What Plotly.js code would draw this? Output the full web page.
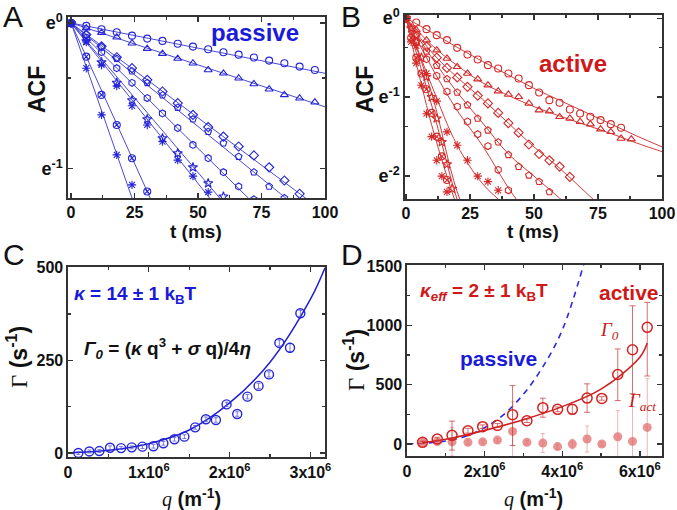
<!DOCTYPE html>
<html><head><meta charset="utf-8">
<script src="https://cdn.plot.ly/plotly-3.0.1.min.js"></script>
<style>html,body{margin:0;padding:0;background:#fff}#chart{width:677px;height:510px}</style>
</head><body><div id="chart"></div>
<script>
// ---------- Panel A (passive): ln(ACF) vs t (ms) ----------
const A_t = [0,6,12,18,24,30,36,42,48,54,60,66,72,78,84,90,96];
const A_circle   = [0,-0.02,-0.043,-0.064,-0.087,-0.107,-0.123,-0.142,-0.162,-0.18,-0.201,-0.217,-0.237,-0.258,-0.276,-0.299,-0.322];
const A_triangle = [0,-0.035,-0.066,-0.098,-0.139,-0.176,-0.21,-0.244,-0.276,-0.322,-0.345,-0.379,-0.418,-0.454,-0.493,-0.516,-0.543];
const A_diamond  = [0,-0.08,-0.16,-0.235,-0.31,-0.39,-0.47,-0.55,-0.63,-0.714,-0.779,-0.847,-0.908,-0.99,-1.08,-1.171];
const A_pentagon = [0,-0.08,-0.165,-0.245,-0.33,-0.41,-0.495,-0.58,-0.66,-0.745,-0.824,-0.916,-1.023,-1.121,-1.2];
const A_hexagon  = [0,-0.1,-0.2,-0.31,-0.41,-0.515,-0.62,-0.72,-0.836,-0.927,-1.023,-1.121,-1.21];
const A_star     = [0,-0.125,-0.27,-0.41,-0.53,-0.66,-0.79,-0.893,-0.99,-1.099,-1.19];
const A_aster    = [0,-0.13,-0.288,-0.432,-0.568,-0.699,-0.813,-0.94,-1.05,-1.16];
const A_crossed  = [0,-0.231,-0.493,-0.699,-0.927,-1.155];
const A_asterF   = [0,-0.31,-0.63,-0.904,-1.11];
const A_fitT = [0,100];
const A_fitEnd = [-0.345,-0.575,-1.30,-1.42,-1.72,-2.05,-2.2,-3.85,-5.0];

// ---------- Panel B (active): ln(ACF) vs t (ms) ----------
const B_t = [0,4,8,12,16,20,24,28,32,36,40,44,48,52,56,60,64,68,72,76,80,84,88];
const B_circle   = [0,-0.055,-0.139,-0.215,-0.278,-0.376,-0.46,-0.523,-0.595,-0.637,-0.70,-0.764,-0.848,-0.941,-1.038,-1.072,-1.156,-1.207,-1.249,-1.291,-1.342,-1.388];
const B_triangle = [0,-0.15,-0.278,-0.405,-0.51,-0.616,-0.70,-0.772,-0.848,-0.924,-0.966,-0.996,-1.08,-1.165,-1.177,-1.249,-1.27,-1.312,-1.342,-1.405,-1.439,-1.523,-1.532];
const B_diamond  = [0,-0.2,-0.36,-0.5,-0.63,-0.75,-0.87,-0.98,-1.08,-1.2,-1.33,-1.45,-1.6,-1.72,-1.8,-1.88,-2.01];
const B_pentagon = [0,-0.22,-0.42,-0.6,-0.77,-0.94,-1.1,-1.27,-1.42,-1.57,-1.73,-1.88,-1.99,-2.07,-2.2];
const B_hexagon  = [0,-0.3,-0.52,-0.73,-0.93,-1.12,-1.31,-1.47,-1.62,-1.92,-2.18];
const B_aster    = [0,-0.35,-0.7,-1.05,-1.44,-1.61,-1.8,-2.0,-2.07,-2.18];
const B_tFast = [0,2,4,6,8,10,12,14,16,18];
const B_star     = [0,-0.13,-0.3,-0.5,-0.743,-1.0,-1.27,-1.57,-1.85,-2.16];
const B_crossed  = [0,-0.25,-0.5,-0.7,-0.9,-1.2,-1.5,-1.75,-2.05];
const B_asterF   = [0,-0.3,-0.57,-0.85,-1.21,-1.5,-1.8,-2.0,-2.2];
const B_fitT = [0,10,20,30,40,50,60,70,80,90,100];
const B_fitCircle   = [0,-0.18,-0.37,-0.55,-0.72,-0.89,-1.04,-1.19,-1.34,-1.49,-1.63];
const B_fitTriangle = [0,-0.34,-0.6,-0.82,-0.98,-1.12,-1.24,-1.35,-1.46,-1.58,-1.69];
const B_fitDiamond  = [0,-0.43,-0.75,-1.03,-1.33,-1.63,-1.9,-2.2,-2.5];
const B_fitPentagon = [0,-0.5,-0.94,-1.33,-1.72,-2.0,-2.28,-2.55];
const B_fitHexagon  = [0,-0.62,-1.17,-1.62,-2.15,-2.6];
const B_fitAster    = [0,-0.85,-1.61,-2.1,-2.4];
const B_fitFastT = [0,10,20,30];
const B_fitStar     = [0,-0.95,-2.2,-3.0];
const B_fitCrossed  = [0,-1.1,-2.3,-3.2];
const B_fitAsterF   = [0,-1.35,-2.4,-3.3];

// ---------- Panel C: relaxation rate vs q (passive) ----------
const C_q = [0.128,0.264,0.388,0.52,0.657,0.789,0.921,1.057,1.18,1.317,1.44,1.574,1.706,1.83,1.962,2.094,2.22,2.358,2.487,2.615,2.747,2.875].map(v=>v*1e6);
const C_gamma = [0,4,5,14,13,15,17,18,26,37,44,69,91,89,131,105,152,181,212,297,284,377];
const C_err = [4,4,4,5,4,4,5,5,5,5,5,5,6,6,6,6,6,7,7,8,12,8];
const C_fitQ = [0,0.5,1,1.5,2,2.5,3,3.18].map(v=>v*1e6);
const C_fit = [0,7,25,62,135,245,415,500];

// ---------- Panel D: relaxation rate vs q (active) ----------
const D_q = [0.40,0.78,1.16,1.57,1.95,2.33,2.72,3.09,3.50,3.88,4.26,4.64,5.02,5.43,5.81,6.19].map(v=>v*1e6);
const D_gamma0 = [14,42,73,112,146,157,247,196,306,292,292,387,384,586,794,983];
const D_gamma0ErrPlus  = [10,15,120,20,15,15,245,15,80,20,40,120,15,215,370,210];
const D_gamma0ErrMinus = [10,15,124,20,15,15,260,15,80,20,40,120,15,220,370,410];
const D_gammaAct = [14,20,18,14,18,33,106,14,8,-22,0,42,0,61,22,140];
const D_gammaActErr = [10,15,120,20,15,15,250,15,80,20,40,110,15,220,370,410];
const D_fitQ = [0.4,1,2,3,4,5,6,6.19].map(v=>v*1e6);
const D_fit = [12,40,115,205,315,462,730,850];
const D_passQ = [0,0.5,1,1.5,2,2.5,3,3.5,4,4.55].map(v=>v*1e6);
const D_pass = [0,8,26,63,138,250,420,650,960,1510];

// ---------- styling ----------
const blueMk = '#2424d8', blueLn = '#4a4ad2';
const redMk = '#d42a2a', redLn = '#d23c3c';
const FONT = 'Liberation Sans, Arial, sans-serif';
const traces = [];

function series(t, y, sym, color, xa, ya, size) {
  traces.push({x: t.slice(0, y.length), y: y, xaxis: xa, yaxis: ya, mode: 'markers', type: 'scatter',
    cliponaxis: true,
    marker: {symbol: sym, size: size || 7, color: color, line: {color: color, width: 1.1}}, hoverinfo: 'skip'});
}
function fitLine(t, y, color, xa, ya, shape) {
  traces.push({x: t.slice(0, y.length), y: y, xaxis: xa, yaxis: ya, mode: 'lines', type: 'scatter',
    line: {color: color, width: 1, shape: shape || 'linear'}, hoverinfo: 'skip'});
}

// Panel A
const A_sets = [A_circle, A_triangle, A_diamond, A_pentagon, A_hexagon, A_star, A_aster, A_crossed, A_asterF];
const A_syms = ['circle-open','triangle-up-open','diamond-open','pentagon-open','hexagon-open','star-open','asterisk-open','circle-x-open','asterisk-open'];
A_fitEnd.forEach(e => fitLine(A_fitT, [0, e], blueLn, 'x', 'y'));
A_sets.forEach((s, i) => series(A_t, s, A_syms[i], blueMk, 'x', 'y'));

// Panel B
const B_fits = [B_fitCircle, B_fitTriangle, B_fitDiamond, B_fitPentagon, B_fitHexagon, B_fitAster];
B_fits.forEach(f => fitLine(B_fitT, f, redLn, 'x2', 'y2', 'spline'));
[B_fitStar, B_fitCrossed, B_fitAsterF].forEach(f => fitLine(B_fitFastT, f, redLn, 'x2', 'y2', 'spline'));
const B_sets = [B_circle, B_triangle, B_diamond, B_pentagon, B_hexagon, B_aster];
const B_syms = ['circle-open','triangle-up-open','diamond-open','pentagon-open','hexagon-open','asterisk-open'];
B_sets.forEach((s, i) => series(B_t, s, B_syms[i], redMk, 'x2', 'y2'));
series(B_tFast, B_star, 'star-open', redMk, 'x2', 'y2');
series(B_tFast, B_crossed, 'circle-x-open', redMk, 'x2', 'y2');
series(B_tFast, B_asterF, 'asterisk-open', redMk, 'x2', 'y2');

// Panel C
traces.push({x: C_fitQ, y: C_fit, xaxis: 'x3', yaxis: 'y3', mode: 'lines', line: {color: '#2020d0', width: 1.5, shape: 'spline'}, hoverinfo: 'skip'});
traces.push({x: C_q, y: C_gamma, xaxis: 'x3', yaxis: 'y3', mode: 'markers',
  error_y: {type: 'data', array: C_err, color: '#5a5ad8', thickness: 0.8, width: 2},
  marker: {symbol: 'circle-open', size: 9, color: '#2424d8', line: {width: 1.4, color: '#2424d8'}}, hoverinfo: 'skip'});

// Panel D
traces.push({x: D_passQ, y: D_pass, xaxis: 'x4', yaxis: 'y4', mode: 'lines', line: {color: '#2a2ae0', width: 1.6, dash: '6px,5px', shape: 'spline'}, hoverinfo: 'skip'});
traces.push({x: D_q, y: D_gammaAct, xaxis: 'x4', yaxis: 'y4', mode: 'markers',
  error_y: {type: 'data', array: D_gammaActErr, color: 'rgba(228,120,120,0.55)', thickness: 1, width: 2},
  marker: {symbol: 'circle', size: 9, color: 'rgba(226,110,110,0.75)', line: {width: 0}}, hoverinfo: 'skip'});
traces.push({x: D_fitQ, y: D_fit, xaxis: 'x4', yaxis: 'y4', mode: 'lines', line: {color: '#cc2222', width: 1.6, shape: 'spline'}, hoverinfo: 'skip'});
traces.push({x: D_q, y: D_gamma0, xaxis: 'x4', yaxis: 'y4', mode: 'markers',
  error_y: {type: 'data', symmetric: false, array: D_gamma0ErrPlus, arrayminus: D_gamma0ErrMinus, color: 'rgba(200,50,50,0.7)', thickness: 1, width: 3},
  marker: {symbol: 'circle-open', size: 10, color: '#d42222', line: {width: 1.5, color: '#d42222'}}, hoverinfo: 'skip'});

// ---------- axes ----------
const W = 677, H = 510;
const dx = (a, b) => [a / W, b / W];
const dy = (top, bot) => [1 - bot / H, 1 - top / H];
const tickFont = {family: FONT, size: 16, color: '#111', weight: 'bold'};
const eFont = {family: FONT, size: 18, color: '#111', weight: 'bold'};
function ax(domain, range, extra) {
  return Object.assign({domain: domain, range: range, showgrid: false, zeroline: false, showline: true,
    linecolor: '#333', linewidth: 1.6, mirror: 'allticks', ticks: 'inside', ticklen: 5, tickwidth: 1.3,
    tickcolor: '#333', tickfont: tickFont, fixedrange: true}, extra || {});
}
const minorT = v => ({tickvals: v, ticklen: 3, ticks: 'inside', tickcolor: '#333'});
const sci = ['0','1x10<sup>6</sup>','2x10<sup>6</sup>','3x10<sup>6</sup>'];
const layout = {
  width: W, height: H, margin: {l: 0, r: 0, t: 0, b: 0}, paper_bgcolor: '#fff', plot_bgcolor: '#fff',
  showlegend: false, font: {family: FONT},
  xaxis: ax(dx(68, 325), [-1.2, 100], {anchor: 'y', tickvals: [0,25,50,75,100], ticklabelstandoff: -1, minor: minorT([12.5,37.5,62.5,87.5])}),
  yaxis: ax(dy(17, 198), [-1.2, 0.041], {anchor: 'x', tickvals: [0,-1], ticktext: ['e<sup>0</sup>','e<sup>-1</sup>'], tickfont: eFont, minor: minorT([-0.377])}),
  xaxis2: ax(dx(405, 662), [-0.4, 100], {anchor: 'y2', tickvals: [0,25,50,75,100], ticklabelstandoff: -1, minor: minorT([12.5,37.5,62.5,87.5])}),
  yaxis2: ax(dy(15, 199), [-2.29, 0.04], {anchor: 'x2', tickvals: [0,-1,-2], ticktext: ['e<sup>0</sup>','e<sup>-1</sup>','e<sup>-2</sup>'], tickfont: eFont, minor: minorT([-0.37,-1.37])}),
  xaxis3: ax(dx(68, 325), [0, 3.18e6], {anchor: 'y3', tickvals: [0,1e6,2e6,3e6], ticktext: sci, minor: minorT([0.5e6,1.5e6,2.5e6])}),
  yaxis3: ax(dy(267, 457), [-11, 502], {anchor: 'x3', tickvals: [0,250,500], minor: minorT([125,375])}),
  xaxis4: ax(dx(407, 662), [0, 6.57e6], {anchor: 'y4', tickvals: [0,2e6,4e6,6e6], ticktext: ['0','2x10<sup>6</sup>','4x10<sup>6</sup>','6x10<sup>6</sup>'], minor: minorT([1e6,3e6,5e6])}),
  yaxis4: ax(dy(265, 456), [-101, 1508], {anchor: 'x4', tickvals: [0,500,1000,1500], minor: minorT([250,750,1250])}),
  annotations: []
};
function ann(text, px, py, opts) {
  layout.annotations.push(Object.assign({text: text, x: px / W, y: 1 - py / H, xref: 'paper', yref: 'paper',
    showarrow: false, xanchor: 'center', yanchor: 'middle', font: {family: FONT, size: 16, color: '#111'}}, opts || {}));
}
const big = {family: FONT, size: 30, color: '#111'};
ann('A', 13, 17, {font: big}); ann('B', 351, 17, {font: big});
ann('C', 14, 254, {font: big}); ann('D', 352, 254, {font: big});
const ttl = {family: FONT, size: 20, color: '#111', weight: 'bold'};
ann('ACF', 37, 90, {textangle: -90, font: {family: FONT, size: 23, color: '#111', weight: 'bold'}});
ann('ACF', 365, 90, {textangle: -90, font: {family: FONT, size: 23, color: '#111', weight: 'bold'}});
ann('t (ms)', 196, 232, {font: {family: FONT, size: 19, color: '#111', weight: 'bold'}});
ann('t (ms)', 533, 232, {font: {family: FONT, size: 19, color: '#111', weight: 'bold'}});
const gam = '<span style="font-family:Liberation Serif,Times New Roman,serif;font-weight:normal">Γ</span> (s<sup>-1</sup>)';
ann(gam, 17, 357, {textangle: -90, font: {family: FONT, size: 23, color: '#111', weight: 'bold'}});
ann(gam, 354, 360, {textangle: -90, font: {family: FONT, size: 23, color: '#111', weight: 'bold'}});
const qlab = '<span style="font-family:Liberation Serif,Times New Roman,serif;font-style:italic;font-weight:normal">q</span> (m<sup>-1</sup>)';
ann(qlab, 191, 498, {font: ttl}); ann(qlab, 533, 498, {font: ttl});
ann('passive', 255, 32, {font: {family: FONT, size: 24, color: '#1a1ad8', weight: 'bold'}});
ann('active', 573, 63, {font: {family: FONT, size: 24, color: '#d01818', weight: 'bold'}});
ann('<i>κ</i> = 14 ± 1 k<sub>B</sub>T', 72, 295, {xanchor: 'left', font: {family: FONT, size: 19, color: '#1a1ad8', weight: 'bold'}});
ann('<i>Γ<sub>0</sub></i> = (<i>κ</i> q<sup>3</sup> + <i>σ</i> q)/4<i>η</i>', 82, 348, {xanchor: 'left', font: {family: FONT, size: 19, color: '#111', weight: 'bold'}});
ann('<i>κ<sub>eff</sub></i> = 2 ± 1 k<sub>B</sub>T', 418, 292, {xanchor: 'left', font: {family: FONT, size: 19, color: '#d01818', weight: 'bold'}});
ann('active', 629, 292, {font: {family: FONT, size: 21, color: '#d01818', weight: 'bold'}});
ann('<i>Γ<sub>0</sub></i>', 609, 331, {font: {family: 'Liberation Serif, Times New Roman, serif', size: 19, color: '#c81818'}});
ann('passive', 498, 358, {font: {family: FONT, size: 21, color: '#1a1ad8', weight: 'bold'}});
ann('<i>Γ<sub>act</sub></i>', 642, 402, {font: {family: 'Liberation Serif, Times New Roman, serif', size: 19, color: '#c81818'}});

Plotly.newPlot('chart', traces, layout, {staticPlot: true, displayModeBar: false});
</script>
</body></html>
